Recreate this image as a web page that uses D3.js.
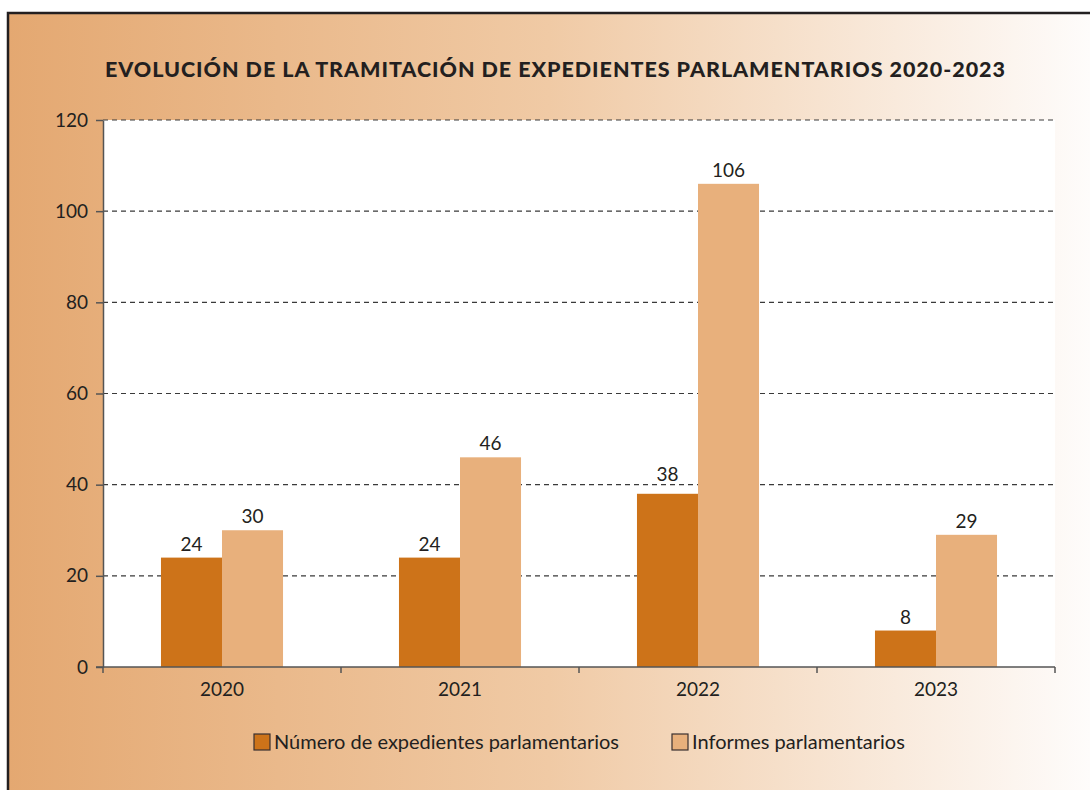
<!DOCTYPE html>
<html>
<head>
<meta charset="utf-8">
<script src="https://cdn.jsdelivr.net/npm/d3@7"></script>
<style>
  body { margin: 0; background: #fff; }
  text { font-family: Lato, 'Open Sans', sans-serif; fill: #231f20; }
</style>
</head>
<body>
<div id="chart"></div>
<script>
// data
const years = ['2020', '2021', '2022', '2023'];
const seriesNames = ['Número de expedientes parlamentarios', 'Informes parlamentarios'];
const expedientes = [24, 24, 38, 8];
const informes = [30, 46, 106, 29];
const yTicks = [0, 20, 40, 60, 80, 100, 120];
const colors = ['#cd7319', '#e8b07c'];

const width = 1090;
const height = 790;
const plot = { left: 103, right: 1055, top: 120, bottom: 667 };

const svg = d3
  .select('#chart')
  .append('svg')
  .attr('width', width)
  .attr('height', height);

// background gradient
const grad = svg
  .append('defs')
  .append('linearGradient')
  .attr('id', 'bg')
  .attr('x1', '0%')
  .attr('x2', '100%');
grad.append('stop').attr('offset', '0%').attr('stop-color', '#e4a871');
grad.append('stop').attr('offset', '50%').attr('stop-color', '#f0caa5');
grad.append('stop').attr('offset', '100%').attr('stop-color', '#fefcfb');

svg
  .append('rect')
  .attr('x', 8)
  .attr('y', 13)
  .attr('width', width - 8)
  .attr('height', height - 13)
  .attr('fill', 'url(#bg)');

// frame
svg
  .append('path')
  .attr('d', `M8,${height} L8,13 L${width},13`)
  .attr('fill', 'none')
  .attr('stroke', '#231f20')
  .attr('stroke-width', 2.5);

// plot area
svg
  .append('rect')
  .attr('x', plot.left)
  .attr('y', plot.top)
  .attr('width', plot.right - plot.left)
  .attr('height', plot.bottom - plot.top)
  .attr('fill', '#fff');

// title
svg
  .append('text')
  .attr('x', 105)
  .attr('y', 77)
  .attr('font-weight', 900)
  .attr('font-size', 21.5)
  .attr('textLength', 900)
  .attr('lengthAdjust', 'spacing')
  .text('EVOLUCIÓN DE LA TRAMITACIÓN DE EXPEDIENTES PARLAMENTARIOS 2020-2023');

// scales
const x0 = d3.scaleBand().domain(years).range([plot.left, plot.right]);
const x1 = d3
  .scaleBand()
  .domain(seriesNames)
  .range([0, x0.bandwidth()])
  .paddingOuter(0.95);
const y = d3.scaleLinear().domain([0, 120]).range([plot.bottom, plot.top]);

// gridlines
const gridVals = yTicks.filter((d) => d > 0);
svg
  .append('g')
  .selectAll('line')
  .data(gridVals)
  .join('line')
  .attr('x1', plot.left)
  .attr('x2', plot.right)
  .attr('y1', (d) => y(d))
  .attr('y2', (d) => y(d))
  .attr('stroke', '#3a3a3a')
  .attr('stroke-width', 1.2)
  .attr('stroke-dasharray', '5,4');

// bars
const rows = years.map((yr, i) => ({
  year: yr,
  values: [
    { key: seriesNames[0], value: expedientes[i], color: colors[0] },
    { key: seriesNames[1], value: informes[i], color: colors[1] },
  ],
}));

const groups = svg
  .append('g')
  .selectAll('g')
  .data(rows)
  .join('g')
  .attr('transform', (d) => `translate(${x0(d.year)},0)`);

groups
  .selectAll('rect')
  .data((d) => d.values)
  .join('rect')
  .attr('x', (d) => x1(d.key))
  .attr('y', (d) => y(d.value))
  .attr('width', x1.bandwidth())
  .attr('height', (d) => y(0) - y(d.value))
  .attr('fill', (d) => d.color);

// label baseline above bar, lifted over a gridline if it would sit on one
const labelY = function (v) {
  const base = y(v) - 7;
  const hit = gridVals.find((g) => y(g) > base - 15 && y(g) < base + 2);
  return hit !== undefined ? y(hit) - 4 : base;
};

groups
  .selectAll('.val')
  .data((d) => d.values)
  .join('text')
  .attr('class', 'val')
  .attr('x', (d) => x1(d.key) + x1.bandwidth() / 2)
  .attr('y', (d) => labelY(d.value))
  .attr('text-anchor', 'middle')
  .attr('font-size', 19)
  .text((d) => d.value);

// y axis
const yAxis = svg
  .append('g')
  .attr('transform', `translate(${plot.left},0)`)
  .call(d3.axisLeft(y).tickValues(yTicks).tickSize(7).tickSizeOuter(0).tickPadding(8));
yAxis.select('.domain').attr('stroke', '#555').attr('stroke-width', 1.5);
yAxis.selectAll('.tick line').attr('stroke', '#555').attr('stroke-width', 1.5);
yAxis
  .selectAll('.tick text')
  .attr('font-size', 19)
  .style('font-family', 'Lato, sans-serif')
  .attr('fill', '#231f20');

// x axis
const xAxisG = svg.append('g').attr('transform', `translate(0,${plot.bottom})`);
xAxisG
  .append('line')
  .attr('x1', plot.left - 7)
  .attr('x2', plot.right)
  .attr('stroke', '#555')
  .attr('stroke-width', 1.5);
xAxisG
  .selectAll('.xtick')
  .data(years.map((d) => x0(d)).concat([plot.right]))
  .join('line')
  .attr('class', 'xtick')
  .attr('x1', (d) => d)
  .attr('x2', (d) => d)
  .attr('y1', 0)
  .attr('y2', 6)
  .attr('stroke', '#555')
  .attr('stroke-width', 1.5);
xAxisG
  .selectAll('.xlabel')
  .data(years)
  .join('text')
  .attr('class', 'xlabel')
  .attr('x', (d) => x0(d) + x0.bandwidth() / 2)
  .attr('y', 29)
  .attr('text-anchor', 'middle')
  .attr('font-size', 19)
  .text((d) => d);

// legend
const legendX = [254, 672];
const legend = svg
  .append('g')
  .selectAll('g')
  .data(seriesNames)
  .join('g')
  .attr('transform', (d, i) => `translate(${legendX[i]},734)`);
legend
  .append('rect')
  .attr('width', 16)
  .attr('height', 16)
  .attr('fill', (d, i) => colors[i])
  .attr('stroke', '#3a3030')
  .attr('stroke-width', 1.2);
legend
  .append('text')
  .attr('x', 20)
  .attr('y', 15)
  .attr('font-size', 20)
  .text((d) => d);
</script>
</body>
</html>
